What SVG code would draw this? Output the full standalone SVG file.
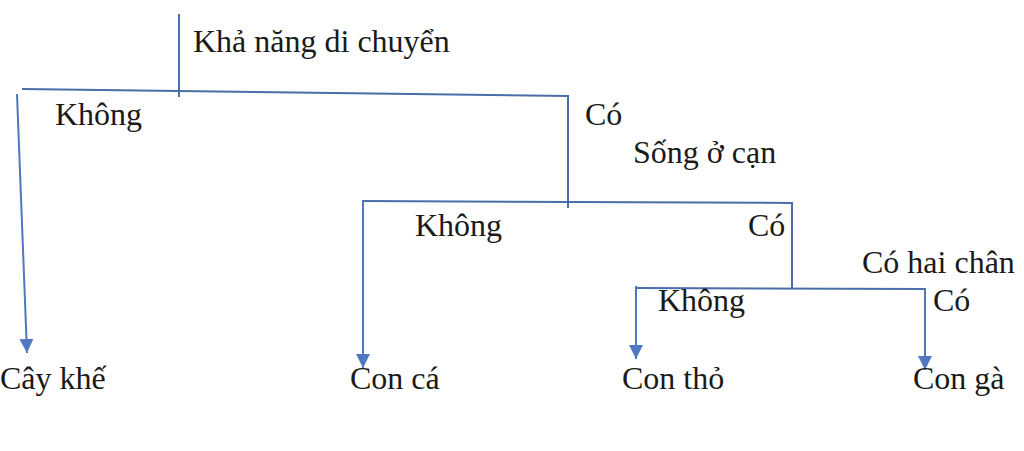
<svg xmlns="http://www.w3.org/2000/svg" width="1024" height="451" viewBox="0 0 1024 451">
<style>
text{font-family:"Liberation Serif","Times New Roman",serif;font-size:32px;fill:#1a1a1a}
.ln{stroke:#4a6ea8;stroke-width:2;fill:none}
.ar{stroke:#4f78c0;stroke-width:2;fill:none;marker-end:url(#ah)}
</style>
<defs>
<marker id="ah" markerUnits="userSpaceOnUse" markerWidth="14" markerHeight="16" refX="14" refY="7" orient="auto">
<path d="M0,0 L14,7 L0,14 Z" fill="#4f78c0"/>
</marker>
</defs>
<rect width="1024" height="451" fill="#ffffff"/>
<g id="connectors">
<line class="ln" x1="179" y1="14" x2="179" y2="97"/>
<line class="ln" x1="22" y1="89" x2="569" y2="96"/>
<line class="ar" x1="17" y1="94" x2="27" y2="353"/>
<line class="ln" x1="568" y1="96" x2="568" y2="208"/>
<line class="ln" x1="362" y1="201" x2="793" y2="203"/>
<line class="ar" x1="363" y1="201" x2="363" y2="368"/>
<line class="ln" x1="792" y1="203" x2="792" y2="289"/>
<line class="ln" x1="636" y1="288" x2="926" y2="289"/>
<line class="ar" x1="636" y1="286" x2="636" y2="359"/>
<line class="ar" x1="925" y1="289" x2="925" y2="370"/>
</g>
<g id="root"><text x="193" y="52">Khả năng di chuyển</text></g>
<g id="label-khong-1"><text x="55" y="125">Không</text></g>
<g id="label-co-1"><text x="585" y="125">Có</text></g>
<g id="song-o-can"><text x="633" y="163">Sống ở cạn</text></g>
<g id="label-khong-2"><text x="415" y="236">Không</text></g>
<g id="label-co-2"><text x="748" y="236">Có</text></g>
<g id="co-hai-chan"><text x="862" y="273">Có hai chân</text></g>
<g id="label-khong-3"><text x="658" y="311">Không</text></g>
<g id="label-co-3"><text x="933" y="311">Có</text></g>
<g id="cay-khe"><text x="0" y="389">Cây khế</text></g>
<g id="con-ca"><text x="350" y="389">Con cá</text></g>
<g id="con-tho"><text x="622" y="389">Con thỏ</text></g>
<g id="con-ga"><text x="913" y="389">Con gà</text></g>
</svg>
